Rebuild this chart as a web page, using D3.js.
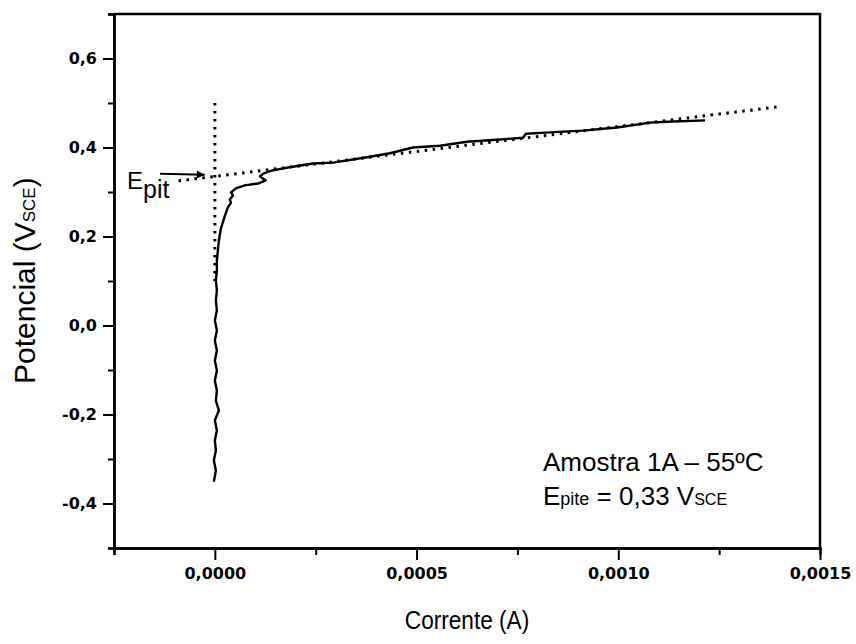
<!DOCTYPE html>
<html>
<head>
<meta charset="utf-8">
<script src="https://cdn.jsdelivr.net/npm/d3@7"></script>
<style>
  html, body { margin: 0; padding: 0; background: #fff; }
  svg { display: block; }
  text { font-family: "Liberation Sans", Arial, sans-serif; fill: #000; }
</style>
</head>
<body>
<svg id="chart" width="856" height="644"></svg>
<script>
// Polarization curve: current (A) vs potential (V vs SCE)
const currentA = [
  -0.0000025, 0.0000025, -0.0000025, 0.0000025, 0, 0.000005, 0, 0.00001, 0.0000025, 0.000005,
  0, 0.000005, 0, 0.000005, 0, 0.000005, 0, 0.000005, 0.0000025, 0.000005,
  0.0000025, 0.000005, 0.000005, 0.0000075, 0.00001, 0.000015, 0.000025, 0.000032, 0.00004, 0.000037,
  0.000045, 0.00004, 0.000052, 0.000074, 0.000107, 0.000126, 0.000112, 0.000121, 0.000141, 0.000181,
  0.000243, 0.000293, 0.000377, 0.000434, 0.000491, 0.000558, 0.000625, 0.000707, 0.000764, 0.000771,
  0.000831, 0.000912, 0.000997, 0.001079, 0.001121, 0.001215
];
const potentialV = [
  -0.351, -0.326, -0.303, -0.281, -0.258, -0.236, -0.213, -0.191, -0.169, -0.146,
  -0.124, -0.101, -0.079, -0.056, -0.034, -0.011, 0.011, 0.034, 0.056, 0.079,
  0.101, 0.124, 0.146, 0.169, 0.191, 0.218, 0.247, 0.265, 0.276, 0.283,
  0.292, 0.299, 0.308, 0.315, 0.319, 0.326, 0.335, 0.342, 0.348, 0.355,
  0.364, 0.366, 0.378, 0.387, 0.400, 0.404, 0.413, 0.418, 0.422, 0.431,
  0.434, 0.438, 0.445, 0.456, 0.458, 0.461
];

// Tangent construction lines used to find the pitting potential
const tangentX = [-0.00009, 0.0014];
const tangentY = [0.325, 0.492];
const verticalX = [0, 0];
const verticalY = [0.5, 0.1];
const arrowX = [-0.000136, -0.000025];
const arrowY = [0.341, 0.339];

// Axis ticks
const xMajorTicks = [0, 0.0005, 0.001, 0.0015];
const xMinorTicks = [-0.00025, 0.00025, 0.00075, 0.00125];
const yMajorTicks = [-0.4, -0.2, 0, 0.2, 0.4, 0.6];
const yMinorTicks = [-0.5, -0.3, -0.1, 0.1, 0.3, 0.5, 0.7];

const xDomain = [-0.00025, 0.0015];
const yDomain = [-0.5, 0.7];

const svg = d3.select("#chart");
const plotLeft = 114, plotRight = 820, plotTop = 14, plotBottom = 548;

const x = d3.scaleLinear().domain(xDomain).range([plotLeft, plotRight]);
const y = d3.scaleLinear().domain(yDomain).range([plotBottom, plotTop]);

const comma = s => s.replace(".", ",");
const fmtX = d => comma(d3.format(".4f")(d));
const fmtY = d => comma(d3.format(".1f")(d)).replace("−", "-");

// Axes
const axisStroke = 2.5;
function styleAxis(g) {
  g.selectAll("path.domain").attr("stroke", "#000").attr("stroke-width", axisStroke);
  g.selectAll(".tick line").attr("stroke", "#000").attr("stroke-width", 2);
  g.selectAll(".tick text")
    .style("font-family", "'DejaVu Sans', sans-serif")
    .style("font-weight", "bold")
    .style("font-size", "16px")
    .attr("fill", "#000");
}

svg.append("g")
  .attr("transform", `translate(0,${plotBottom})`)
  .call(d3.axisBottom(x).tickValues(xMinorTicks).tickSize(7).tickFormat(""))
  .call(styleAxis);
svg.append("g")
  .attr("transform", `translate(0,${plotBottom})`)
  .call(d3.axisBottom(x).tickValues(xMajorTicks).tickSize(12).tickSizeOuter(0).tickPadding(8).tickFormat(fmtX))
  .call(styleAxis);

svg.append("g")
  .attr("transform", `translate(${plotLeft},0)`)
  .call(d3.axisLeft(y).tickValues(yMinorTicks).tickSize(6).tickFormat(""))
  .call(styleAxis);
svg.append("g")
  .attr("transform", `translate(${plotLeft},0)`)
  .call(d3.axisLeft(y).tickValues(yMajorTicks).tickSize(11).tickSizeOuter(0).tickPadding(6).tickFormat(fmtY))
  .call(styleAxis);

// Top and right frame
svg.append("path")
  .attr("d", `M${plotLeft},${plotTop}H${plotRight}V${plotBottom}`)
  .attr("fill", "none").attr("stroke", "#000").attr("stroke-width", axisStroke);

// Dotted construction lines
const dotted = { "stroke": "#000", "stroke-width": 3, "stroke-dasharray": "2.5,5.5", "fill": "none" };
function drawLine(xs, ys, attrs) {
  const p = svg.append("path")
    .datum(xs.map((v, i) => [v, ys[i]]))
    .attr("d", d3.line().x(d => x(d[0])).y(d => y(d[1])));
  Object.entries(attrs).forEach(([k, v]) => p.attr(k, v));
  return p;
}
drawLine(verticalX, verticalY, dotted);
drawLine(tangentX, tangentY, dotted);

// Measured curve
svg.append("path")
  .datum(currentA.map((v, i) => [v, potentialV[i]]))
  .attr("d", d3.line().x(d => x(d[0])).y(d => y(d[1])))
  .attr("fill", "none")
  .attr("stroke", "#000")
  .attr("stroke-width", 2.4)
  .attr("stroke-linejoin", "round");

// Arrow pointing to the pitting potential
svg.append("defs").append("marker")
  .attr("id", "arrowhead")
  .attr("viewBox", "0 0 10 10")
  .attr("refX", 10).attr("refY", 5)
  .attr("markerUnits", "userSpaceOnUse")
  .attr("markerWidth", 11).attr("markerHeight", 8)
  .attr("orient", "auto")
  .append("path").attr("d", "M0,0L10,5L0,10Z").attr("fill", "#000");
drawLine(arrowX, arrowY, { "stroke": "#000", "stroke-width": 2, "fill": "none", "marker-end": "url(#arrowhead)" });

const epit = svg.append("text").attr("x", 127).attr("y", 189).attr("font-size", 24);
epit.append("tspan").text("E");
epit.append("tspan").attr("font-size", 25).attr("dy", 9).text("pit");

// Axis titles
svg.append("text")
  .attr("transform", `translate(${(plotLeft + plotRight) / 2},629) scale(0.87,1)`)
  .attr("text-anchor", "middle")
  .attr("font-size", 26)
  .text("Corrente (A)");

const yTitle = svg.append("text")
  .attr("transform", "translate(35,384) rotate(-90)")
  .attr("text-anchor", "start")
  .attr("font-size", 30);
yTitle.append("tspan").text("Potencial (V");
yTitle.append("tspan").attr("font-size", 17).text("SCE");
yTitle.append("tspan").text(")");

// Sample annotation
svg.append("text").attr("x", 543).attr("y", 471).attr("font-size", 26).text("Amostra 1A – 55ºC");
const ep = svg.append("text").attr("x", 543).attr("y", 505).attr("font-size", 26);
ep.append("tspan").text("E");
ep.append("tspan").attr("font-size", 18).text("pite");
ep.append("tspan").text(" = 0,33 V");
ep.append("tspan").attr("font-size", 16).text("SCE");
</script>
</body>
</html>
